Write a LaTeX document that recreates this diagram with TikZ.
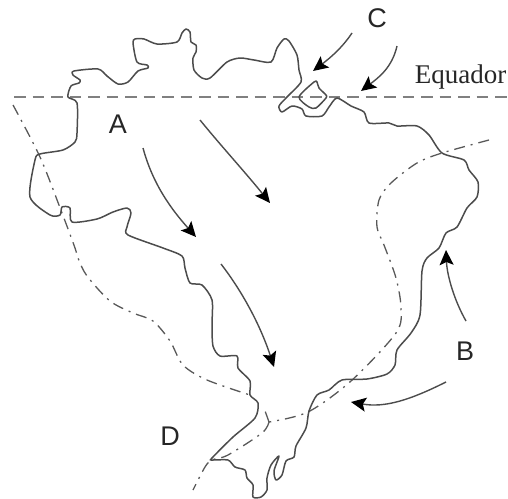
\documentclass[tikz,border=0pt]{standalone}
\usepackage{fontspec}
\setmainfont{Liberation Serif}
\setsansfont{Liberation Sans}
\usetikzlibrary{arrows.meta}
\definecolor{inkline}{gray}{0.3}
\definecolor{equatorline}{gray}{0.5}
\definecolor{dashline}{gray}{0.35}
\tikzset{
  border/.style={draw=inkline,line width=1.5pt,line join=round},
  equatorstyle/.style={draw=equatorline,line width=1.5pt,dash pattern=on 11.5pt off 7pt},
  limitline/.style={draw=dashline,line width=1.3pt,dash pattern=on 11pt off 6pt on 2pt off 6pt},
  flow/.style={draw=inkline,line width=1.4pt,-{Stealth[length=15pt,width=14pt,inset=3pt,fill=black,color=black]}},
  letter/.style={font=\sffamily\fontsize{27}{27}\selectfont,text=black!85,inner sep=0pt},
  equatorlabel/.style={font=\rmfamily\fontsize{27}{27}\selectfont,text=black!85,inner sep=0pt}
}
\begin{document}
\begin{tikzpicture}[x=1pt,y=-1pt]
\useasboundingbox (0,0) rectangle (508,498);
% equator
\coordinate (eqW) at (14,97);
\coordinate (eqE) at (508,97);
\draw[equatorstyle] (eqW) -- (eqE);
% limit lines
\draw[limitline,smooth,tension=0.5] plot coordinates {(13,105) (40,157) (62,213) (75,248) (78,258) (87,276) (110,301) (133,313) (153,321) (170,341) (183,365) (207,380) (250,395)};
\draw[limitline,smooth,tension=0.5] plot coordinates {(489,140) (442,153) (417,163) (391,183) (379,200) (377,227) (384,245) (396,278) (401,308) (396,333) (351,381) (308,412) (269,422)};
\draw[limitline] (269,422) -- (264,408);
\draw[limitline,smooth,tension=0.5] plot coordinates {(269,422) (262,433) (228,455) (212,460) (205,467) (193,490)};
% outline
\draw[border] plot[smooth cycle,tension=0.45] coordinates {
(68,97) (71,86) (79,83) (80,80) (73,75) (74,71) (98,69) (107,76) (118,84) (128,82) (138,71) (148,68) (147,65) (137,62) (133,43) (135,39) (144,39) (157,44) (177,42) (182,33) (186,29) (190,32) (191,42) (196,45) (196,52) (193,58) (194,70) (202,78) (210,78) (227,62) (240,58) (254,60) (271,62) (277,48) (284,39) (289,41) (297,55) (299,70) (301,82) (287,97) (279,106) (282,112) (292,106) (302,109) (306,116) (322,116) (329,107) (337,98) (351,106) (364,112) (369,123) (389,123) (397,126) (417,126) (429,135) (442,153) (464,160) (469,170) (478,182) (477,197) (467,208) (457,227) (446,233) (439,248) (427,258) (422,271) (420,315) (411,333) (397,350) (395,365) (387,374) (367,379) (342,380) (329,390) (317,395) (309,411) (306,428) (296,446) (294,457) (286,461) (282,475) (276,480) (274,471) (279,456) (271,465) (267,478) (267,490) (261,497) (253,497) (253,485) (247,478) (245,470) (235,467) (228,460) (212,460) (212,458) (233,437) (255,418) (258,403) (250,395) (250,381) (238,368) (237,356) (220,356) (213,346) (212,325) (212,300) (202,285) (190,283) (185,268) (182,256) (163,248) (128,235) (127,227) (131,213) (127,208) (113,212) (97,219) (72,222) (70,208) (62,207) (60,215) (50,215) (30,197) (35,160) (40,154) (63,150) (75,142) (77,133) (77,103)};
% island
\draw[border] plot[smooth cycle,tension=0.45] coordinates {(299,97) (314,82) (317,82) (319,88) (326,95) (326,98) (316,108) (309,107)};
% arrow end points
\coordinate (a1s) at (143,148); \coordinate (a1e) at (196,237);
\coordinate (a2s) at (200,120); \coordinate (a2e) at (270,203);
\coordinate (a3s) at (221,264); \coordinate (a3e) at (274,367);
\coordinate (c1s) at (352,33);  \coordinate (c1e) at (313,71);
\coordinate (c2s) at (397,46);  \coordinate (c2e) at (361,91);
\coordinate (b1s) at (466,321); \coordinate (b1e) at (446,250);
\coordinate (b2s) at (446,382); \coordinate (b2e) at (351,402);
\draw[flow] (a1s) .. controls (153,185) and (172,210) .. (a1e);
\draw[flow] (a2s) .. controls (222,147) and (245,172) .. (a2e);
\draw[flow] (a3s) .. controls (245,295) and (262,330) .. (a3e);
\draw[flow] (c1s) .. controls (342,48) and (330,58) .. (c1e);
\draw[flow] (c2s) .. controls (392,68) and (378,78) .. (c2e);
\draw[flow] (b1s) .. controls (454,300) and (447,275) .. (b1e);
\draw[flow] (b2s) .. controls (410,400) and (385,408) .. (b2e);
% labels
\node[letter] (lA) at (118,124) {A};
\node[letter] (lB) at (465,351) {B};
\node[letter] (lC) at (377,18) {C};
\node[letter] (lD) at (170,436) {D};
\node[equatorlabel,anchor=base] (lE) at (460.5,83) {Equador};
\end{tikzpicture}
\end{document}
